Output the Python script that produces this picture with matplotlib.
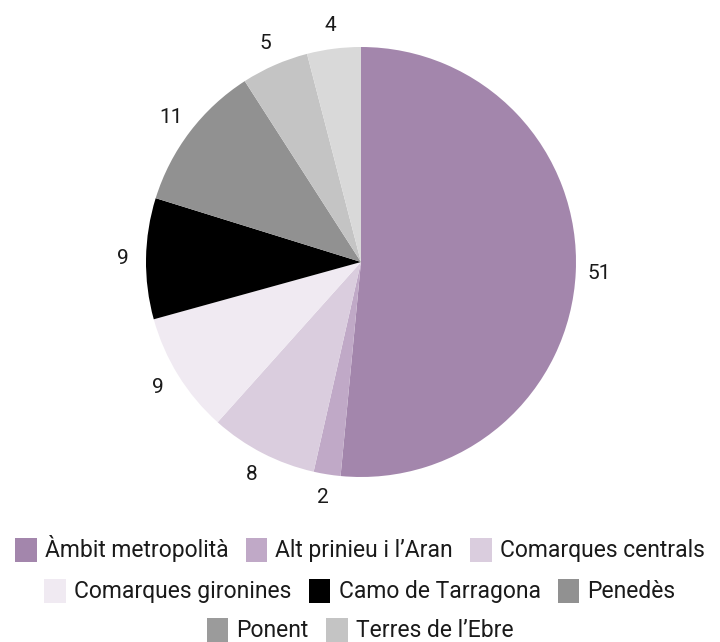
import matplotlib
matplotlib.use("Agg")
import matplotlib.pyplot as plt
from matplotlib.patches import Patch

plt.rcParams['font.family'] = ['Roboto', 'DejaVu Sans']

regions = ["Àmbit metropolità", "Alt prinieu i l’Aran", "Comarques centrals",
           "Comarques gironines", "Camo de Tarragona", "Penedès",
           "Ponent", "Terres de l’Ebre"]
values = [51, 2, 8, 9, 9, 11, 5, 4]
slice_colors = ["#a386ac", "#c0a9c7", "#dacdde", "#f0eaf2", "#000000",
                "#919191", "#c4c4c4", "#d9d9d9"]
legend_colors = ["#a386ac", "#c0a9c7", "#dacdde", "#f0eaf2", "#000000",
                 "#919191", "#9b9b9b", "#c4c4c4"]
legend_rows = [[0, 1, 2], [3, 4, 5], [6, 7]]

W, H = 720, 642
fig = plt.figure(figsize=(W / 100, H / 100), dpi=100)
cx, cy, r = 361, 262, 215
ax = fig.add_axes([(cx - r) / W, (H - cy - r) / H, 2 * r / W, 2 * r / H])
wedges, texts = ax.pie(values, colors=slice_colors, startangle=90,
                       counterclock=False,
                       labels=[str(v) for v in values], labeldistance=1.11,
                       textprops=dict(fontsize=15, color="#1a1a1a"),
                       wedgeprops=dict(linewidth=0))
for t in texts:
    t.set_horizontalalignment("center")
    t.set_verticalalignment("center")
ax.set_xlim(-1, 1)
ax.set_ylim(-1, 1)
ax.set_aspect("equal")

row_y = [549, 591, 630]
for row, y in zip(legend_rows, row_y):
    handles = [Patch(facecolor=legend_colors[i], edgecolor="none") for i in row]
    labels = [regions[i] for i in row]
    fig.legend(handles, labels, loc="center", bbox_to_anchor=(0.5, 1 - y / H),
               ncol=len(row), frameon=False, fontsize=16.5,
               handlelength=0.95, handleheight=1.25, handletextpad=0.35,
               columnspacing=0.75, labelcolor="#1a1a1a",
               borderpad=0, borderaxespad=0)

fig.savefig("out.png", dpi=100)
